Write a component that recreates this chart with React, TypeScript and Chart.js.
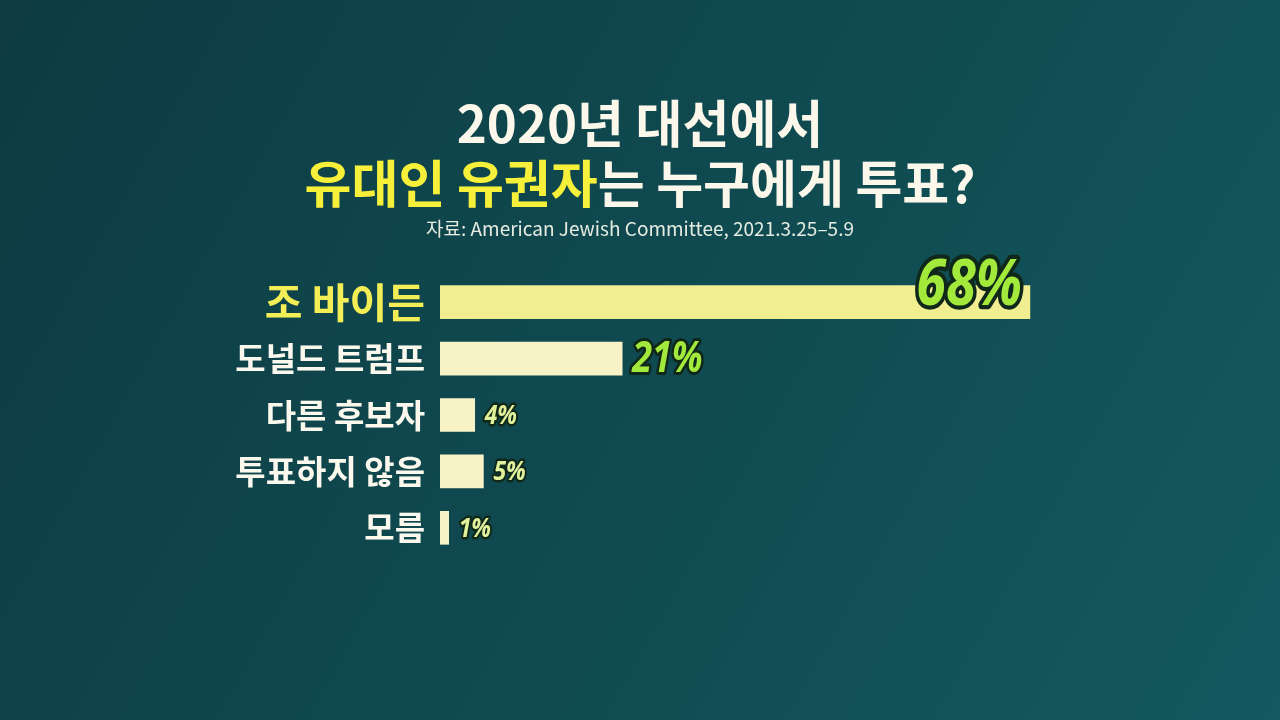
import React, { useEffect, useRef } from "react";
import { Chart, registerables } from "chart.js";
Chart.register(...registerables);

const categories = ["조 바이든", "도널드 트럼프", "다른 후보자", "투표하지 않음", "모름"];
const values = [68, 21, 4, 5, 1];
const titleLine1 = "2020년 대선에서";
const titleHighlight = "유대인 유권자";
const titleRest = "는 누구에게 투표?";
const sourceText = "자료: American Jewish Committee, 2021.3.25–5.9";

const KR = '"Noto Sans CJK KR", "Noto Sans", sans-serif';

const bgPlugin = {
  id: "bg",
  beforeDraw(chart: any) {
    const { ctx, width, height } = chart;
    ctx.save();
    const g = ctx.createLinearGradient(0, 0, width, height);
    g.addColorStop(0, "#0e3b42");
    g.addColorStop(0.5, "#0f4a50");
    g.addColorStop(1, "#13595f");
    ctx.fillStyle = g;
    ctx.fillRect(0, 0, width, height);
    ctx.restore();
  },
};

const titlePlugin = {
  id: "titles",
  afterDraw(chart: any) {
    const { ctx, width } = chart;
    const cx = width / 2;
    ctx.save();
    ctx.textBaseline = "middle";
    ctx.font = `bold 51px ${KR}`;
    ctx.fillStyle = "#fbf7ea";
    ctx.textAlign = "center";
    ctx.fillText(titleLine1, cx, 124);
    const w1 = ctx.measureText(titleHighlight).width;
    const w2 = ctx.measureText(titleRest).width;
    let x = cx - (w1 + w2) / 2;
    ctx.textAlign = "left";
    ctx.fillStyle = "#f6f03a";
    ctx.fillText(titleHighlight, x, 184);
    ctx.fillStyle = "#fbf7ea";
    ctx.fillText(titleRest, x + w1, 184);
    ctx.font = `19px ${KR}`;
    ctx.fillStyle = "#e6ece2";
    ctx.textAlign = "center";
    ctx.fillText(sourceText, cx, 229);
    ctx.restore();
  },
};

const valuePlugin = {
  id: "values",
  afterDatasetsDraw(chart: any) {
    const { ctx } = chart;
    const meta = chart.getDatasetMeta(0);
    ctx.save();
    meta.data.forEach((bar: any, i: number) => {
      const label = values[i] + "%";
      const big = i === 0;
      const size = big ? 54 : i === 1 ? 36 : 23;
      ctx.font = `italic bold ${size}px "Noto Sans", sans-serif`;
      ctx.lineJoin = "round";
      ctx.textBaseline = "middle";
      let tx: number, ty: number;
      if (big) {
        ctx.textAlign = "right";
        tx = bar.x - 8;
        ty = bar.y - 16;
      } else {
        ctx.textAlign = "left";
        tx = bar.x + 10;
        ty = bar.y + 1;
      }
      ctx.save();
      ctx.translate(tx, ty);
      ctx.scale(1, 1.2);
      ctx.lineWidth = big ? 7 : i === 1 ? 5 : 4;
      ctx.strokeStyle = "#10281a";
      ctx.strokeText(label, 0, 0);
      ctx.fillStyle = i <= 1 ? "#a2e93c" : "#e2f29c";
      ctx.fillText(label, 0, 0);
      ctx.restore();
    });
    ctx.restore();
  },
};

export default function App() {
  const ref = useRef<HTMLCanvasElement>(null);
  useEffect(() => {
    if (!ref.current) return;
    const chart = new Chart(ref.current, {
      type: "bar",
      data: {
        labels: categories,
        datasets: [
          {
            data: values,
            backgroundColor: values.map((_, i) => (i === 0 ? "#f1ee92" : "#f8f3c6")),
            borderWidth: 0,
            barThickness: 33,
          },
        ],
      },
      options: {
        indexAxis: "y",
        animation: false,
        responsive: false,
        maintainAspectRatio: false,
        layout: { padding: { left: 0, right: 146, top: 274, bottom: 164 } },
        plugins: {
          legend: { display: false },
          tooltip: { enabled: false },
          title: { display: false },
        },
        scales: {
          x: { min: 0, max: 80, display: false },
          y: {
            afterFit: (scale: any) => {
              scale.width = 440;
            },
            grid: { display: false, drawTicks: false },
            border: { display: false },
            ticks: {
              padding: 15,
              color: (c: any) => (c.index === 0 ? "#f3ee55" : "#fbf8ee"),
              font: (c: any) =>
                c.index === 0
                  ? { family: KR, size: 41, weight: "bold" }
                  : { family: KR, size: 33, weight: "bold" },
            },
          },
        },
      },
      plugins: [bgPlugin, titlePlugin, valuePlugin],
    });
    return () => chart.destroy();
  }, []);
  return (
    <div style={{ position: "fixed", left: 0, top: 0, width: 1280, height: 720 }}>
      <canvas ref={ref} width={1280} height={720} style={{ width: 1280, height: 720, display: "block" }} />
    </div>
  );
}
